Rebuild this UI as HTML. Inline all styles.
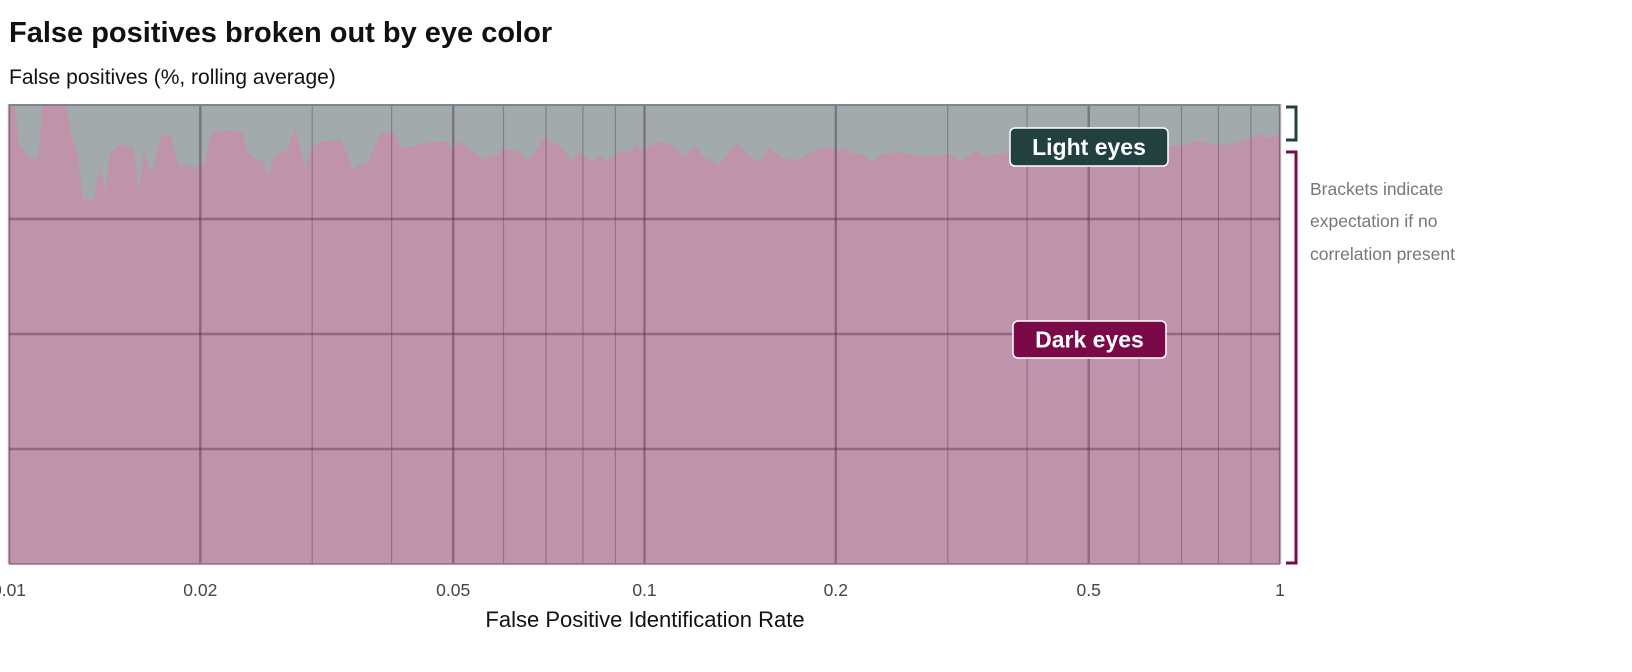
<!DOCTYPE html>
<html><head><meta charset="utf-8"><style>
body{margin:0;background:#fff;font-family:"Liberation Sans",sans-serif;}
svg{display:block}
</style></head><body>
<svg id="chart" width="1632" height="672" xmlns="http://www.w3.org/2000/svg">
<text x="9" y="42" font-size="29" font-weight="bold" fill="#111">False positives broken out by eye color</text>
<text x="9" y="84" font-size="21" fill="#111">False positives (%, rolling average)</text>
<g id="plot"></g>
<text x="645" y="627" font-size="22" text-anchor="middle" fill="#111">False Positive Identification Rate</text>
<text font-size="17.5" fill="#777"><tspan x="1310" y="195">Brackets indicate</tspan><tspan x="1310" y="227">expectation if no</tspan><tspan x="1310" y="260">correlation present</tspan></text>
</svg>
<script>
const fpir = [0.01,0.0102,0.0104,0.0105,0.0107,0.0109,0.0111,0.0113,0.0123,0.0126,0.0128,0.0131,0.0136,0.0139,0.0142,0.0144,0.0150,0.0152,0.0157,0.0160,0.0163,0.0167,0.0169,0.0173,0.0180,0.0185,0.0189,0.0195,0.0203,0.0208,0.0216,0.0224,0.0233,0.0238,0.0247,0.0252,0.0256,0.0263,0.0274,0.0282,0.0292,0.0299,0.0314,0.0324,0.0333,0.0348,0.0354,0.0367,0.0384,0.0403,0.0415,0.0430,0.0461,0.0489,0.0500,0.0511,0.0526,0.0547,0.0561,0.0573,0.0584,0.0597,0.0637,0.0651,0.0668,0.0697,0.0740,0.0771,0.0788,0.0830,0.0851,0.0869,0.0922,0.0948,0.0970,0.0984,0.106,0.110,0.116,0.120,0.124,0.131,0.140,0.146,0.152,0.157,0.163,0.172,0.185,0.194,0.202,0.207,0.213,0.221,0.226,0.238,0.252,0.276,0.301,0.315,0.333,0.344,0.381,0.434,0.502,0.600,0.703,0.740,0.773,0.832,0.871,0.937,0.957,0.989,1.0];
const darkPct = [100,100,90.7,90.4,88.5,88.5,87.4,100,100,91.7,89.8,79.3,79.3,86.5,81.1,89.6,91.3,90.7,90.7,81.1,90.2,85.4,86.3,93.0,93.5,86.3,87.0,86.1,87.0,93.5,94.1,94.3,93.9,89.1,87.8,87.6,84.3,89.1,89.8,95.0,86.3,90.7,92.0,92.0,92.4,85.7,87.0,87.2,93.7,93.9,90.4,90.7,91.7,92.0,90.0,92.0,90.7,89.1,87.6,89.3,88.3,90.4,89.6,87.6,89.1,92.8,90.7,87.4,89.6,87.6,88.9,87.6,90.0,89.3,91.7,89.8,92.0,91.1,88.5,91.1,88.5,86.7,91.7,88.7,87.4,90.7,88.7,87.6,89.8,90.7,89.8,90.7,89.1,89.1,87.4,89.1,89.6,88.5,89.1,87.6,90.0,88.5,89.8,88.3,89.3,90.4,91.1,92.0,91.3,91.1,92.0,93.5,92.6,93.0,94.0];
const majorTicks = [0.01,0.02,0.05,0.1,0.2,0.5,1];
const majorLabels = ["0.01","0.02","0.05","0.1","0.2","0.5","1"];
const minorTicks = [0.03,0.04,0.06,0.07,0.08,0.09,0.3,0.4,0.6,0.7,0.8,0.9];
const yGrid = [25,50,75];

const L=9,R=1280,T=104,B=564;
const NS="http://www.w3.org/2000/svg";
const xs=v=>L+(Math.log10(v)+2)/2*(R-L);
const ys=p=>B-p/100*(B-T);
const plot=document.getElementById('plot');
function mk(tag,attrs,parent){const e=document.createElementNS(NS,tag);for(const k in attrs)e.setAttribute(k,attrs[k]);(parent||plot).appendChild(e);return e;}

const bg=mk('rect',{x:L,y:T,width:R-L,height:B-T,fill:'#a3aaac'});


let d=`M${L},${B}`;
fpir.forEach((v,i)=>{d+=` L${xs(v).toFixed(1)},${ys(darkPct[i]).toFixed(1)}`;});
d+=` L${R},${B} Z`;
const area=mk('path',{d:d,fill:'#bf94ab'});



minorTicks.forEach(v=>{const l=mk('line',{x1:xs(v),x2:xs(v),y1:T,y2:B,stroke:'rgba(70,40,60,0.33)','stroke-width':1.2});

});
majorTicks.forEach(v=>{const l=mk('line',{x1:xs(v),x2:xs(v),y1:T,y2:B,stroke:'rgba(70,40,60,0.42)','stroke-width':2.4});

});
yGrid.forEach(p=>{const l=mk('line',{x1:L,x2:R,y1:ys(p),y2:ys(p),stroke:'rgba(90,40,70,0.42)','stroke-width':2.4});

});
const topBorder=mk('line',{x1:L,x2:R,y1:T+1,y2:T+1,stroke:'#7e8689','stroke-width':2});


const botBorder=mk('line',{x1:L,x2:R,y1:B,y2:B,stroke:'#9a6a86','stroke-width':1.5});



majorTicks.forEach((v,i)=>{const t=mk('text',{x:xs(v),y:596,'font-size':17.5,'text-anchor':'middle',fill:'#444'});t.textContent=majorLabels[i];

});

function label(x,y,w,h,fill,txt,name){
 const g=mk('g',{});
 
 
 mk('rect',{x:x,y:y,width:w,height:h,rx:5,fill:fill,stroke:'#fff','stroke-width':1.5},g);
 const t=mk('text',{x:x+w/2,y:y+h/2+8,'font-size':23,'font-weight':'bold','text-anchor':'middle',fill:'#fff'},g);t.textContent=txt;
}
label(1010,128,158,38,'#22403f','Light eyes','light-eyes-label');
label(1013,321,153,37,'#7a0a47','Dark eyes','dark-eyes-label');

const b1=mk('path',{d:'M1286,107 L1296,107 L1296,140 L1286,140',fill:'none',stroke:'#22403f','stroke-width':3});


const b2=mk('path',{d:'M1286,152 L1296,152 L1296,563 L1286,563',fill:'none',stroke:'#7a0a47','stroke-width':3});


</script>
</body></html>
